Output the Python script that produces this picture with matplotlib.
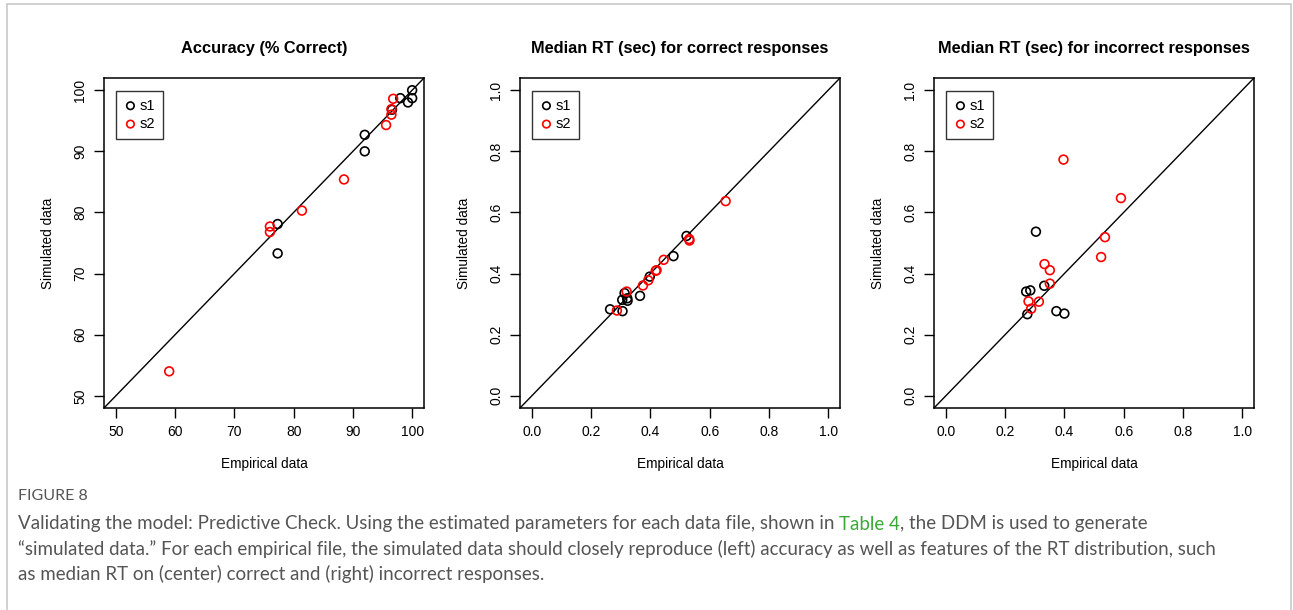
import matplotlib
matplotlib.use("Agg")
import matplotlib.pyplot as plt
from matplotlib.patches import Rectangle

# ---- data ----
acc_s1_emp = [100.0, 98.0, 100.0, 99.3, 96.6, 92.0, 92.0, 77.3, 77.3]
acc_s1_sim = [100.0, 98.7, 98.7, 98.0, 96.8, 92.7, 90.0, 78.1, 73.3]
acc_s2_emp = [96.8, 96.5, 96.5, 95.6, 88.5, 81.4, 76.0, 76.0, 59.0]
acc_s2_sim = [98.6, 96.9, 96.0, 94.3, 85.4, 80.3, 77.7, 76.8, 54.0]

cor_s1_emp = [0.264, 0.306, 0.305, 0.313, 0.322, 0.323, 0.365, 0.398, 0.478, 0.522]
cor_s1_sim = [0.283, 0.277, 0.314, 0.336, 0.319, 0.311, 0.327, 0.390, 0.457, 0.523]
cor_s2_emp = [0.287, 0.320, 0.375, 0.393, 0.418, 0.421, 0.445, 0.531, 0.532, 0.654]
cor_s2_sim = [0.279, 0.341, 0.361, 0.378, 0.409, 0.411, 0.445, 0.513, 0.508, 0.637]

inc_s1_emp = [0.304, 0.271, 0.285, 0.332, 0.275, 0.373, 0.400]
inc_s1_sim = [0.537, 0.341, 0.345, 0.360, 0.267, 0.277, 0.269]
inc_s2_emp = [0.397, 0.591, 0.537, 0.524, 0.333, 0.351, 0.351, 0.279, 0.314, 0.288]
inc_s2_sim = [0.773, 0.647, 0.519, 0.454, 0.431, 0.411, 0.367, 0.309, 0.308, 0.285]

titles = ["Accuracy (% Correct)",
          "Median RT (sec) for correct responses",
          "Median RT (sec) for incorrect responses"]
acc_ticks = [50, 60, 70, 80, 90, 100]
rt_ticks = [0.0, 0.2, 0.4, 0.6, 0.8, 1.0]
rt_ticklabels = ["0.0", "0.2", "0.4", "0.6", "0.8", "1.0"]

W, H = 1293, 610
fig = plt.figure(figsize=(W / 100, H / 100), dpi=100)
plt.rcParams['font.family'] = ['Liberation Sans', 'DejaVu Sans']


def px_axes(x, y, w, h):
    return fig.add_axes([x / W, 1 - (y + h) / H, w / W, h / H])


# outer frame
fig.patches.append(Rectangle((7 / W, -0.05), (1291 - 7) / W, 1 - 4 / H + 0.05,
                             transform=fig.transFigure, fill=False,
                             edgecolor='#c8c8c8', linewidth=1.2))

panels = [
    (104, (acc_s1_emp, acc_s1_sim, acc_s2_emp, acc_s2_sim), (48, 102), acc_ticks,
     [str(t) for t in acc_ticks]),
    (520, (cor_s1_emp, cor_s1_sim, cor_s2_emp, cor_s2_sim), (-0.04, 1.04), rt_ticks,
     rt_ticklabels),
    (934, (inc_s1_emp, inc_s1_sim, inc_s2_emp, inc_s2_sim), (-0.04, 1.04), rt_ticks,
     rt_ticklabels),
]

for (left, data, lim, ticks, labels), title in zip(panels, titles):
    ax = px_axes(left, 78, 320, 330)
    e1, s1, e2, s2 = data
    ax.plot(lim, lim, color='black', linewidth=1.0)
    ax.scatter(e1, s1, s=40, facecolors='none', edgecolors='black', linewidths=1.2,
               label='s1', zorder=3)
    ax.scatter(e2, s2, s=40, facecolors='none', edgecolors='#ff0000', linewidths=1.2,
               label='s2', zorder=3)
    ax.set_xlim(lim)
    ax.set_ylim(lim)
    ax.set_xticks(ticks)
    ax.set_xticklabels(labels)
    ax.set_yticks(ticks)
    ax.set_yticklabels(labels, rotation=90, va='center')
    ax.tick_params(direction='out', length=7, width=1, labelsize=10, pad=5,
                   colors='black')
    for sp in ax.spines.values():
        sp.set_linewidth(1.1)
    ax.set_title(title, fontsize=11.8, fontweight='bold', pad=18)
    ax.set_xlabel("Empirical data", fontsize=9.8, labelpad=13)
    ax.set_ylabel("Simulated data", fontsize=9.8, labelpad=13)
    leg = ax.legend(loc='upper left', bbox_to_anchor=(0.037, 0.962), fontsize=10.5,
                    frameon=True, fancybox=False, edgecolor='black',
                    handletextpad=0.15, borderpad=0.55, handlelength=0.9,
                    labelspacing=0.3, borderaxespad=0, markerscale=0.85)
    leg.get_frame().set_linewidth(1.0)
    for txt in leg.get_texts():
        txt.set_color('black')

# caption
cap_font = ['Lato', 'DejaVu Sans']
grey = '#555555'
cap_size = 13.5
fig.text(18 / W, 1 - 496 / H, "FIGURE 8", fontsize=11.5, color=grey, va='center',
         family=cap_font)
line1_a = "Validating the model: Predictive Check. Using the estimated parameters for each data file, shown in "
t = fig.text(18 / W, 1 - 524 / H, line1_a, fontsize=cap_size, color=grey, va='center',
             family=cap_font)
fig.canvas.draw()
bb = t.get_window_extent()
t2 = fig.text(bb.x1 / W, 1 - 524 / H, "Table 4", fontsize=cap_size, color='#3aa935',
              va='center', family=cap_font)
fig.canvas.draw()
bb2 = t2.get_window_extent()
fig.text(bb2.x1 / W, 1 - 524 / H, ", the DDM is used to generate", fontsize=cap_size,
         color=grey, va='center', family=cap_font)
fig.text(18 / W, 1 - 549 / H,
         "\u201csimulated data.\u201d For each empirical file, the simulated data should closely "
         "reproduce (left) accuracy as well as features of the RT distribution, such",
         fontsize=cap_size, color=grey, va='center', family=cap_font)
fig.text(18 / W, 1 - 574 / H,
         "as median RT on (center) correct and (right) incorrect responses.",
         fontsize=cap_size, color=grey, va='center', family=cap_font)

fig.savefig("out.png", dpi=100)
